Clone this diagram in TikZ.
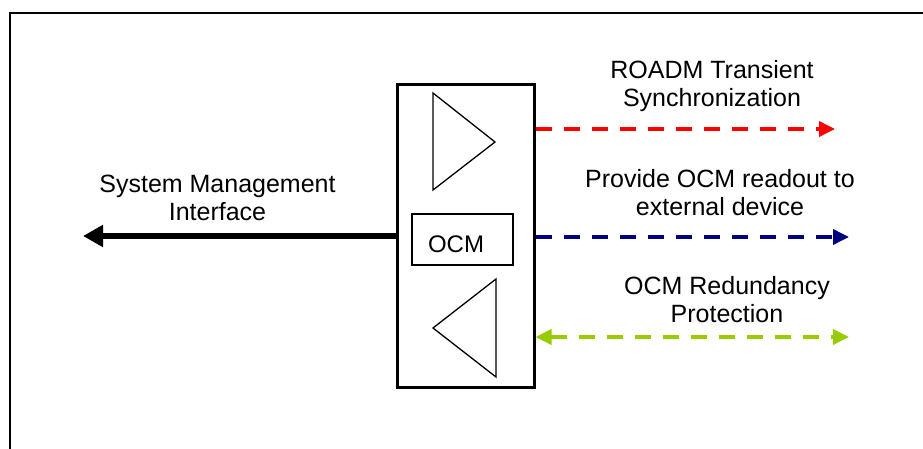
\documentclass[tikz,border=0pt]{standalone}
\usepackage{fontspec}
\setmainfont{Liberation Sans}
\usetikzlibrary{arrows.meta}
\definecolor{sigred}{HTML}{FF0000}
\definecolor{signavy}{HTML}{000080}
\definecolor{siggreen}{HTML}{99CC00}
\tikzset{
  label/.style={align=center, anchor=base, inner sep=0pt,
    font=\fontsize{25}{28}\selectfont},
  dashlink/.style={line width=3.5pt, dash pattern=on 16pt off 12pt,
    -{Triangle[length=16pt,width=15pt]}},
  unitbox/.style={draw, line width=3pt, inner sep=0pt},
  thinpart/.style={draw, line width=1.3pt, line join=miter},
}
\begin{document}
\begin{tikzpicture}[x=1pt, y=-1pt]
  \useasboundingbox (0,0) rectangle (923,449);
  % outer frame, cut by the page edge on the right and at the bottom
  \draw[line width=2pt] (923,13) -- (10,13) -- (10,449);

  % monitoring unit with its amplifiers and the OCM block
  \node[unitbox, minimum width=137pt, minimum height=302pt] (unit) at (465.5,236) {};
  \draw[thinpart] (433,93) -- (433,190) -- (495,142) -- cycle;
  \draw[thinpart] (496,279) -- (496,377) -- (433,328) -- cycle;
  \node[thinpart, minimum width=101pt, minimum height=51pt, inner sep=0pt] (ocm) at (462.5,239.5) {};
  \node[anchor=base, inner sep=0pt, font=\fontsize{24}{28}\selectfont] (ocmtext) at (456,252) {OCM};

  % connector end points
  \coordinate (smiEnd) at (83,236);
  \coordinate (syncEnd) at (835,129);
  \coordinate (readEnd) at (849,237);
  \coordinate (protEnd) at (849,337);

  % connectors
  \draw[line width=6pt, -{Triangle[length=20pt,width=21pt]}] (unit.west) -- (smiEnd);
  \draw[dashlink, color=sigred] (unit.east |- syncEnd) -- (syncEnd);
  \draw[dashlink, color=signavy] (unit.east |- readEnd) -- (readEnd);
  \draw[dashlink, color=siggreen, {Triangle[length=16pt,width=15pt]}-{Triangle[length=16pt,width=15pt]}]
    (unit.east |- protEnd) -- (protEnd);

  % labels (base anchor sits on the last line)
  \node[label] (smi) at (217.5,220) {System Management\\Interface};
  \node[label] (sync) at (712,107) {ROADM Transient\\Synchronization};
  \node[label] (read) at (720,215) {Provide OCM readout to\\external device};
  \node[label] (prot) at (727,322) {OCM Redundancy\\Protection};
\end{tikzpicture}
\end{document}
